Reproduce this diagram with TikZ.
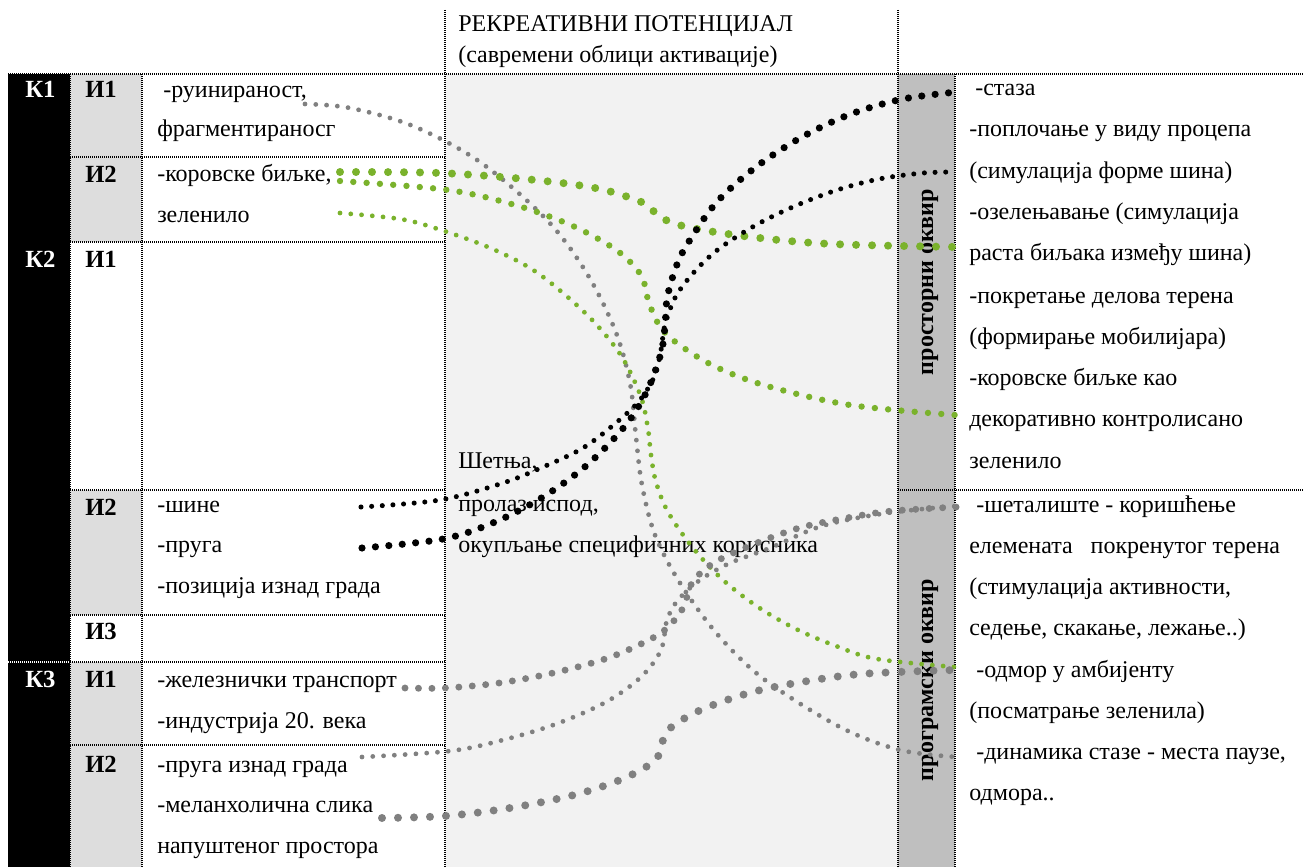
\documentclass[tikz,border=0pt]{standalone}
\usepackage{fontspec}
\setmainfont{Liberation Serif}
\definecolor{grn}{RGB}{122,178,44}
\definecolor{dgr}{RGB}{128,128,128}
\definecolor{midbg}{RGB}{242,242,242}
\definecolor{colbg}{RGB}{191,191,191}
\definecolor{cellbg}{RGB}{221,221,221}
\tikzset{
  gridline/.style={line width=0.8pt, dash pattern=on 0.75pt off 0.75pt},
  txt/.style={anchor=base west, inner sep=0pt, font=\fontsize{18}{22}\selectfont},
  klbl/.style={anchor=base west, inner sep=0pt, text=white, font=\fontsize{18.5}{22}\selectfont\bfseries},
  ilbl/.style={anchor=base west, inner sep=0pt, font=\fontsize{18.5}{22}\selectfont\bfseries},
  vlbl/.style={rotate=90, inner sep=0pt, font=\fontsize{18}{22}\selectfont\bfseries},
  bkbig/.style={draw=black, line width=5.4pt, line cap=round, dash pattern=on 0pt off 10.1pt},
  bksmall/.style={draw=black, line width=3.8pt, line cap=round, dash pattern=on 0pt off 8pt},
  gnbig/.style={draw=grn, line width=6pt, line cap=round, dash pattern=on 0pt off 12pt},
  gnmid/.style={draw=grn, line width=4.8pt, line cap=round, dash pattern=on 0pt off 10pt},
  gnsmall/.style={draw=grn, line width=3.6pt, line cap=round, dash pattern=on 0pt off 8.1pt},
  gybig/.style={draw=dgr, line width=5.2pt, line cap=round, dash pattern=on 0pt off 10.1pt},
  gysmall/.style={draw=dgr, line width=3.6pt, line cap=round, dash pattern=on 0pt off 8.1pt},
  gyhuge/.style={draw=dgr, line width=6pt, line cap=round, dash pattern=on 0pt off 12pt},
  curve/.style={smooth, tension=0.55}
}
\begin{document}
\begin{tikzpicture}[x=0.75pt,y=-0.75pt]
\useasboundingbox (0,0) rectangle (1303,867);
% backgrounds
\fill[black] (8,74) rectangle (70,867);
\fill[cellbg] (70,74) rectangle (142,242);
\fill[cellbg] (70,490) rectangle (142,615);
\fill[cellbg] (70,662) rectangle (142,867);
\fill[midbg] (445,74) rectangle (898,867);
\fill[colbg] (898,74) rectangle (955,867);
% grid
\draw[gridline] (8,74) -- (1303,74);
\draw[gridline] (445,10) -- (445,867);
\draw[gridline] (898,10) -- (898,867);
\draw[gridline] (955,74) -- (955,867);
\draw[gridline] (70,74) -- (70,867);
\draw[gridline] (142,74) -- (142,867);
\draw[gridline] (70,157) -- (445,157);
\draw[gridline] (70,242) -- (445,242);
\draw[gridline] (70,490) -- (445,490);
\draw[gridline] (898,490) -- (1303,490);
\draw[gridline] (70,615) -- (445,615);
\draw[gridline, white] (8,662) -- (70,662);
\draw[gridline] (70,662) -- (445,662);
\draw[gridline] (70,745) -- (445,745);
% header
\node[txt] (h1) at (458,32) {РЕКРЕАТИВНИ ПОТЕНЦИЈАЛ};
\node[txt] (h2) at (458,63) {(савремени облици активације)};
% K labels
\node[klbl] (k1) at (25,98) {К1};
\node[klbl] (k2) at (25,267) {К2};
\node[klbl] (k3) at (25,687) {К3};
% I labels
\node[ilbl] (i11) at (85,98) {И1};
\node[ilbl] (i12) at (85,182) {И2};
\node[ilbl] (i21) at (85,267) {И1};
\node[ilbl] (i22) at (85,515) {И2};
\node[ilbl] (i23) at (85,639) {И3};
\node[ilbl] (i31) at (85,687) {И1};
\node[ilbl] (i32) at (85,772) {И2};
% left texts
\node[txt] (l1) at (163,98) {-руинираност,};
\node[txt] (l2) at (157,137) {фрагментираносг};
\node[txt] (l3) at (157,181) {-коровске биљке,};
\node[txt] (l4) at (157,222) {зеленило};
\node[txt] (l5) at (157,512) {-шине};
\node[txt] (l6) at (157,552) {-пруга};
\node[txt] (l7) at (157,593) {-позиција изнад града};
\node[txt] (l8) at (157,687) {-железнички транспорт};
\node[txt] (l9) at (157,728) {-индустрија 20. века};
\node[txt] (l10) at (157,772) {-пруга изнад града};
\node[txt] (l11) at (157,812) {-меланхолична слика};
\node[txt] (l12) at (157,853) {напуштеног простора};
% middle text
\node[txt] (m1) at (458,468) {Шетња,};
\node[txt] (m2) at (458,511) {пролаз испод,};
\node[txt] (m3) at (458,552) {окупљање специфичних корисника};
% vertical labels
\node[vlbl] (v1) at (930,282) {просторни оквир};
\node[vlbl] (v2) at (930,680) {програмски оквир};
% right texts
\node[txt] (r1) at (975,95) {-стаза};
\node[txt] (r2) at (969,137) {-поплочање у виду процепа};
\node[txt] (r3) at (969,178) {(симулација форме шина)};
\node[txt] (r4) at (969,219) {-озелењавање (симулација};
\node[txt] (r5) at (969,260) {раста биљака између шина)};
\node[txt] (r6) at (969,303) {-покретање делова терена};
\node[txt] (r7) at (969,344) {(формирање мобилијара)};
\node[txt] (r8) at (969,385) {-коровске биљке као};
\node[txt] (r9) at (969,426) {декоративно контролисано};
\node[txt] (r10) at (969,468) {зеленило};
\node[txt] (r11) at (976,512) {-шеталиште - коришћење};
\node[txt] (r12) at (969,553) {елемената\ \ \ покренутог терена};
\node[txt] (r13) at (969,594) {(стимулација активности,};
\node[txt] (r14) at (969,635) {седење, скакање, лежање..)};
\node[txt] (r15) at (976,677) {-одмор у амбијенту};
\node[txt] (r16) at (969,718) {(посматрање зеленила)};
\node[txt] (r17) at (976,759) {-динамика стазе - места паузе,};
\node[txt] (r18) at (969,800) {одмора..};
% connector end points
\coordinate (a1) at (305,104);  \coordinate (b1) at (957,757);
\coordinate (a2) at (340,172);  \coordinate (b2) at (957,247);
\coordinate (a3) at (340,181);  \coordinate (b3) at (955,415);
\coordinate (a4) at (340,213);  \coordinate (b4) at (955,667);
\coordinate (a5) at (361,507);  \coordinate (b5) at (955,172);
\coordinate (a6) at (362,548);  \coordinate (b6) at (957,92);
\coordinate (a7) at (405,688);  \coordinate (b7) at (957,507);
\coordinate (a8) at (362,757);  \coordinate (b8) at (957,506);
\coordinate (a9) at (382,818);  \coordinate (b9) at (955,670);
% connectors
\draw[gysmall] plot[curve] coordinates {(a1) (350,108) (413,126) (480,162) (546,219) (586,272) (615,330) (630,383) (636,437) (642,485) (655,535) (680,583) (718,635) (765,680) (840,727) (900,750) (b1)};
\draw[gnbig] plot[curve] coordinates {(a2) (440,173) (535,180) (600,189) (646,204) (658,216) (687,227) (751,237) (832,244) (b2)};
\draw[gnmid] plot[curve] coordinates {(a3) (448,190) (515,205) (566,223) (602,241) (625,257) (642,277) (649,303) (661,328) (681,346) (716,367) (767,386) (850,405) (b3)};
\draw[gnsmall] plot[curve] coordinates {(a4) (400,219) (438,229) (488,247) (530,268) (563,293) (595,323) (622,357) (641,397) (648,429) (651,455) (656,482) (668,512) (693,548) (723,580) (758,607) (796,629) (836,646) (877,659) (b4)};
\draw[bksmall] plot[curve] coordinates {(a5) (440,500) (503,483) (543,467) (583,448) (617,422) (640,400) (655,375) (661,350) (665,325) (676,296) (696,270) (720,248) (756,225) (795,206) (837,190) (879,179) (923,173) (b5)};
\draw[bkbig] plot[curve] coordinates {(a6) (443,539) (495,522) (543,497) (587,465) (625,426) (647,391) (661,353) (665,326) (667,299) (674,273) (685,248) (716,203) (756,167) (802,137) (851,114) (903,99) (b6)};
\draw[gybig] plot[curve] coordinates {(a7) (445,688) (499,683) (553,673) (605,659) (643,643) (666,629) (683,608) (692,583) (712,564) (747,547) (799,528) (852,517) (892,511) (b7)};
\draw[gysmall] plot[curve] coordinates {(a8) (450,751) (503,740) (556,724) (606,702) (641,677) (661,650) (667,620) (678,600) (700,580) (730,563) (770,548) (822,526) (887,513) (b8)};
\draw[gyhuge] plot[curve] coordinates {(a9) (445,816) (510,808) (574,795) (620,780) (649,765) (660,753) (664,737) (674,725) (703,709) (749,693) (796,683) (861,674) (b9)};
\end{tikzpicture}
\end{document}
